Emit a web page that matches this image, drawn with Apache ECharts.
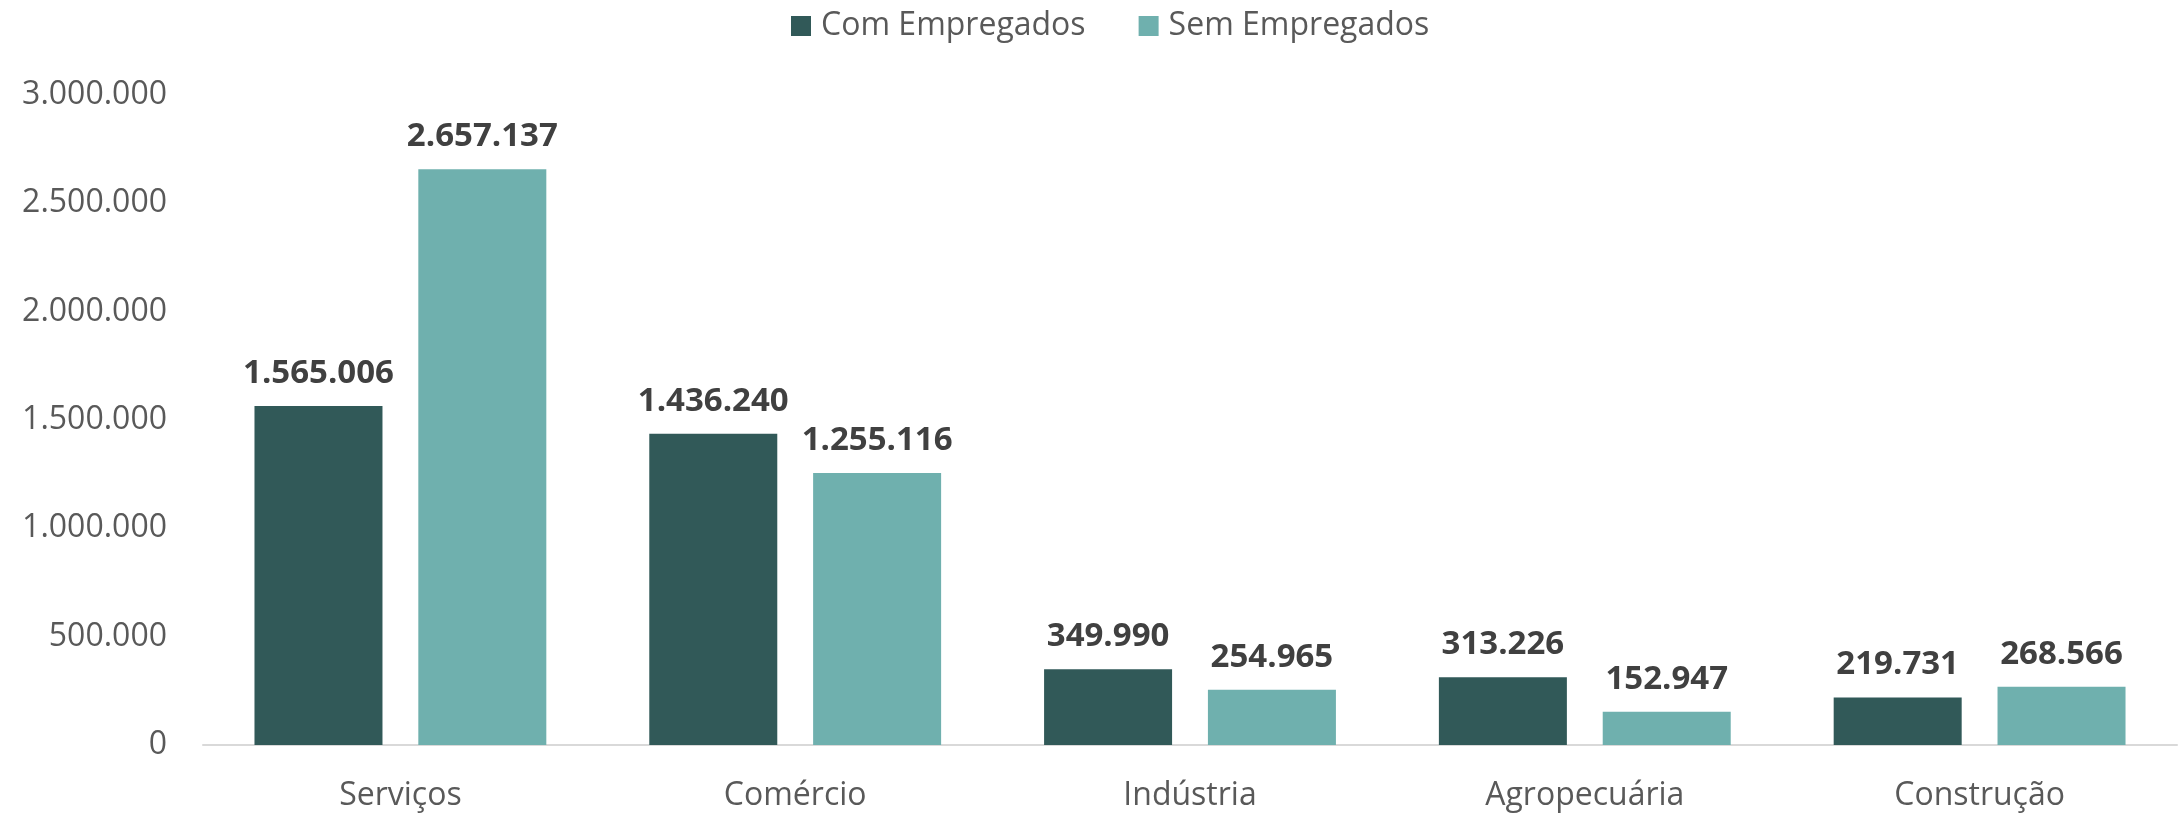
<!DOCTYPE html>
<html>
<head>
<meta charset="utf-8">
<script src="https://cdn.jsdelivr.net/npm/echarts@6/dist/echarts.min.js"></script>
<style>
  html, body { margin: 0; padding: 0; background: #ffffff; }
  #main { width: 2180px; height: 813px; }
</style>
</head>
<body>
<div id="main"></div>
<script>
var categories = ['Serviços', 'Comércio', 'Indústria', 'Agropecuária', 'Construção'];
var comEmpregados = [1565006, 1436240, 349990, 313226, 219731];
var semEmpregados = [2657137, 1255116, 254965, 152947, 268566];
var yTicks = [0, 3000000, 500000]; // min, max, interval

// 1234567 -> 1.234.567
function fmt(v) {
    return String(v).replace(/\B(?=(\d{3})+(?!\d))/g, '.');
}

var font = '"Open Sans", "Noto Sans", sans-serif';

var labelStyle = {
    show: true,
    position: 'top',
    distance: 16,
    color: '#404040',
    fontFamily: font,
    fontWeight: 'bold',
    fontSize: 33,
    formatter: function (p) { return fmt(p.value); }
};

var option = {
    animation: false,
    legend: {
        left: 791,
        top: 10,
        padding: 0,
        itemWidth: 20,
        itemHeight: 20,
        itemGap: 53,
        icon: 'rect',
        textStyle: {
            color: '#595959',
            fontFamily: font,
            fontSize: 32,
            lineHeight: 32,
            padding: [0, 0, 0, 5]
        },
        data: ['Com Empregados', 'Sem Empregados']
    },
    grid: {
        left: 203,
        right: 3,
        top: 95,
        bottom: 68,
        containLabel: false
    },
    xAxis: {
        type: 'category',
        data: categories,
        axisTick: { show: false },
        axisLine: { lineStyle: { color: '#D9D9D9', width: 2 } },
        axisLabel: {
            margin: 35,
            color: '#595959',
            fontFamily: font,
            fontSize: 32
        }
    },
    yAxis: {
        type: 'value',
        min: yTicks[0],
        max: yTicks[1],
        interval: yTicks[2],
        splitLine: { show: false },
        axisLine: { show: false },
        axisTick: { show: false },
        axisLabel: {
            margin: 36,
            color: '#595959',
            fontFamily: font,
            fontSize: 32,
            formatter: function (v) { return fmt(v); }
        }
    },
    series: [{
            name: 'Com Empregados',
            type: 'bar',
            barWidth: 128,
            barGap: '28%',
            itemStyle: { color: '#315958' },
            label: labelStyle,
            data: comEmpregados
        },
        {
            name: 'Sem Empregados',
            type: 'bar',
            barWidth: 128,
            barGap: '28%',
            itemStyle: { color: '#6FB0AE' },
            label: labelStyle,
            data: semEmpregados
        }
    ]
};

var chart = echarts.init(document.getElementById('main'));
chart.setOption(option);
</script>
</body>
</html>
